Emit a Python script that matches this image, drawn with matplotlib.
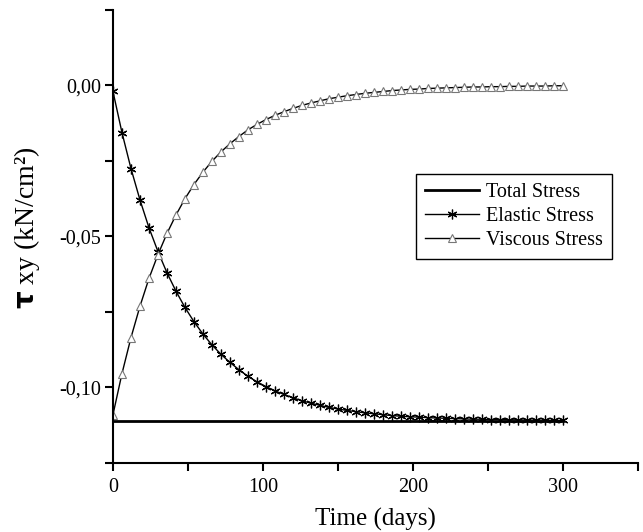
import matplotlib.pyplot as plt
from matplotlib.ticker import FuncFormatter, MultipleLocator

plt.rcParams['font.family'] = ['Liberation Serif', 'DejaVu Serif']

# time in days (markers every 6 days)
days = list(range(0, 301, 6))

total_stress = [-0.111] * len(days)

elastic_stress = [
    -0.0020, -0.0156, -0.0275, -0.0379, -0.0471, -0.0550, -0.0620, -0.0681,
    -0.0735, -0.0782, -0.0823, -0.0859, -0.0890, -0.0917, -0.0941, -0.0963,
    -0.0981, -0.0997, -0.1011, -0.1023, -0.1034, -0.1044, -0.1052, -0.1059,
    -0.1066, -0.1071, -0.1076, -0.1080, -0.1084, -0.1087, -0.1090, -0.1093,
    -0.1095, -0.1097, -0.1098, -0.1100, -0.1101, -0.1102, -0.1103, -0.1104,
    -0.1105, -0.1105, -0.1106, -0.1106, -0.1107, -0.1107, -0.1108, -0.1108,
    -0.1108, -0.1109, -0.1109,
]

viscous_stress = [
    -0.1090, -0.0954, -0.0835, -0.0731, -0.0639, -0.0560, -0.0490, -0.0429,
    -0.0375, -0.0328, -0.0287, -0.0251, -0.0220, -0.0193, -0.0169, -0.0147,
    -0.0129, -0.0113, -0.0099, -0.0087, -0.0076, -0.0066, -0.0058, -0.0051,
    -0.0044, -0.0039, -0.0034, -0.0030, -0.0026, -0.0023, -0.0020, -0.0017,
    -0.0015, -0.0013, -0.0012, -0.0010, -0.0009, -0.0008, -0.0007, -0.0006,
    -0.0005, -0.0005, -0.0004, -0.0004, -0.0003, -0.0003, -0.0002, -0.0002,
    -0.0002, -0.0001, -0.0001,
]

fig = plt.figure(figsize=(6.43, 5.32), dpi=100)
ax = fig.add_axes([0.1757, 0.1297, 0.8163, 0.8516])

ax.plot(days, total_stress, color='black', linewidth=2, label='Total Stress')
ax.plot(days, elastic_stress, color='black', linewidth=1, marker=(6, 2, 0),
        markersize=7, markeredgewidth=0.9, label='Elastic Stress')
ax.plot(days, viscous_stress, color='black', linewidth=1, marker='^',
        markersize=6, markerfacecolor='white', markeredgecolor='#777777',
        markeredgewidth=0.8, label='Viscous Stress')

ax.set_xlim(0, 350)
ax.set_ylim(-0.125, 0.025)
ax.xaxis.set_major_locator(MultipleLocator(100))
ax.xaxis.set_minor_locator(MultipleLocator(50))
ax.yaxis.set_major_locator(MultipleLocator(0.05))
ax.yaxis.set_minor_locator(MultipleLocator(0.025))
ax.yaxis.set_major_formatter(FuncFormatter(lambda v, p: f'{v:.2f}'.replace('.', ',').replace('-0,00', '0,00')))

for s in ['top', 'right']:
    ax.spines[s].set_visible(False)
for s in ['left', 'bottom']:
    ax.spines[s].set_linewidth(1.5)
ax.tick_params(which='both', direction='out', width=1.5, length=5.5, labelsize=14.5)
ax.tick_params(axis='x', pad=5)
ax.tick_params(axis='y', pad=3)
ax.set_yticks([-0.10, -0.05, 0.0])

ax.set_xlabel('Time (days)', fontsize=18, labelpad=8)
ax.set_ylabel(r'$\mathbf{\tau}$ xy (kN/cm²)', fontsize=20)
ax.yaxis.set_label_coords(-0.135, 0.52)

leg = ax.legend(loc='upper left', bbox_to_anchor=(0.577, 0.638), fontsize=14.5,
                fancybox=False, edgecolor='black', framealpha=1,
                handlelength=2.7, handletextpad=0.35, labelspacing=0.25,
                borderpad=0.45, borderaxespad=0)
leg.get_frame().set_linewidth(1)

fig.savefig('out.png', dpi=100)
